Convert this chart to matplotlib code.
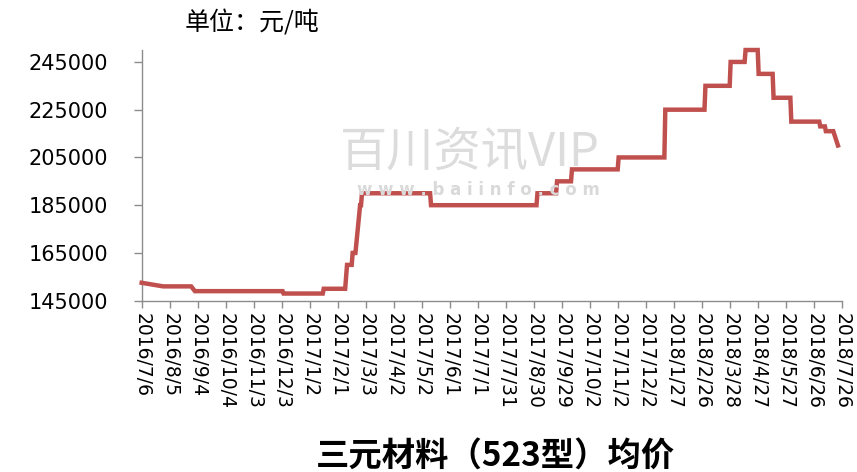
import matplotlib
matplotlib.use("Agg")
import matplotlib.pyplot as plt

# ---- data ----
tick_labels = ["2016/7/6", "2016/8/5", "2016/9/4", "2016/10/4", "2016/11/3", "2016/12/3",
               "2017/1/2", "2017/2/1", "2017/3/3", "2017/4/2", "2017/5/2", "2017/6/1",
               "2017/7/1", "2017/7/31", "2017/8/30", "2017/9/29", "2017/10/2", "2017/11/2",
               "2017/12/2", "2018/1/27", "2018/2/26", "2018/3/28", "2018/4/27", "2018/5/27",
               "2018/6/26", "2018/7/26"]
tick_step = 30  # categories between labels

# category index of each recorded price point, and the price (元/吨)
point_idx = [0, 23, 53, 57, 151, 152, 194, 195, 218, 220, 225, 226, 229, 234, 235, 236,
             309, 310, 423, 424, 444, 445, 460, 461, 510, 511, 560, 561, 603, 604,
             630, 631, 646, 647, 660, 661, 676, 677, 695, 696, 726, 727, 732, 733, 741, 746]
point_val = [152500, 151000, 151000, 149000, 149000, 148000, 148000, 150000, 150000, 160000,
             160000, 165000, 165000, 185000, 185000, 190000,
             190000, 185000, 185000, 190000, 190000, 195000, 195000, 200000, 200000, 205000,
             205000, 225000, 225000, 235000,
             235000, 245000, 245000, 250000, 250000, 240000, 240000, 230000, 230000, 220000,
             220000, 218000, 218000, 216000, 216000, 210000]

y_ticks = [145000, 165000, 185000, 205000, 225000, 245000]

title = "三元材料（523型）均价"
unit = "单位：元/吨"

# ---- figure ----
W, H = 857, 472
fig = plt.figure(figsize=(W / 100, H / 100), dpi=100)
left, right, bottom, top = 141.7, 841.7, 300.7, 50.0
ax = fig.add_axes([left / W, 1 - bottom / H, (right - left) / W, (bottom - top) / H])

axis_gray = "#8c8c8c"

# watermark
fig.text(470 / W, 1 - 152 / H, "百川资讯VIP", fontsize=34, color="#dcdcdc",
         family=["Noto Sans CJK SC", "DejaVu Sans"], ha="center", va="center", zorder=0)
fig.text(478 / W, 1 - 190 / H, "w w w . b a i i n f o . c o m", fontsize=12, color="#d9d9d9",
         fontweight="bold", family=["DejaVu Sans"], ha="center", va="center", zorder=0)
ax.patch.set_alpha(0)

ax.plot(point_idx, point_val, color="#C0504D", lw=3.2, solid_joinstyle="miter",
        clip_on=False, zorder=3)

ax.set_xlim(0, tick_step * (len(tick_labels) - 1))
ax.set_ylim(145000, 250000)
ax.set_xticks([i * tick_step for i in range(len(tick_labels))])
ax.set_xticklabels(tick_labels, rotation=270, ha="center", va="top",
                   fontsize=13.5, family="DejaVu Sans")
ax.set_yticks(y_ticks)
ax.set_yticklabels([str(v) for v in y_ticks], fontsize=15, family="DejaVu Sans")

for s in ["top", "right"]:
    ax.spines[s].set_visible(False)
for s in ["left", "bottom"]:
    ax.spines[s].set_color(axis_gray)
    ax.spines[s].set_linewidth(1.0)
ax.tick_params(axis="y", direction="out", length=6, width=1, color=axis_gray, pad=18)
ax.tick_params(axis="x", direction="out", length=5, width=1, color=axis_gray, pad=4)

fig.text(185 / W, 1 - 23 / H, unit, fontsize=18, color="black",
         family=["Noto Sans CJK SC", "DejaVu Sans"], ha="left", va="center")
fig.text(495 / W, 1 - 456 / H, title, fontsize=24, fontweight="bold", color="black",
         family=["Noto Sans CJK SC", "DejaVu Sans"], ha="center", va="center")

fig.savefig("out.png", dpi=100)
